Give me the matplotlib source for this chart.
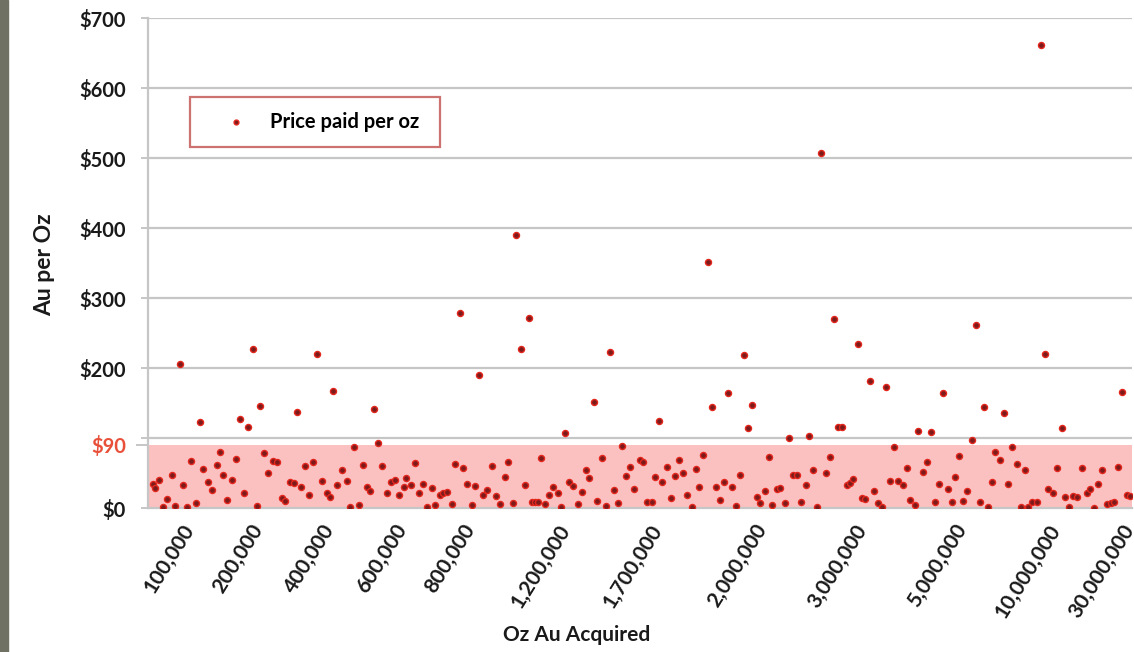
import matplotlib
matplotlib.use("Agg")
import matplotlib.pyplot as plt
from matplotlib.patches import Rectangle

plt.rcParams['font.family'] = ['Lato', 'DejaVu Sans']

# deal rank along the (ordered) acquisition-size axis
deal_rank = [
    0.75, 1.25, 2.25, 3.25, 4.25, 5.5, 6.25, 7.5, 8.25, 9.25,
    10.25, 11.5, 12.5, 13.25, 14.5, 15.5, 16.75, 17.5, 18.25, 19.25,
    20.5, 21.5, 22.5, 23.5, 24.5, 25.75, 26.75, 27.5, 28.5, 29.5,
    30.75, 31.75, 33, 33.75, 35, 36, 36.75, 37.75, 38.75, 39.75,
    40.75, 41.75, 43, 44.25, 45, 45.75, 46.75, 48, 49.25, 50,
    51, 52.25, 53.25, 54.25, 55, 56, 57, 58, 59.25, 60.25,
    61.25, 62.25, 63.5, 64, 65.25, 66.25, 67.25, 68.25, 69.25, 70.5,
    71.25, 72.5, 73.25, 74.25, 75.5, 76.25, 77.5, 78.25, 79.25, 80.5,
    81.25, 82.25, 83.25, 84.25, 85.5, 86.5, 87.5, 88.75, 89.5, 90.75,
    91.5, 92.75, 93.75, 94.75, 95.5, 96.25, 97, 97.75, 98.75, 99.75,
    100.75, 102, 102.75, 103.75, 104.75, 105.75, 107, 108, 109, 109.75,
    111, 111.75, 113, 114, 115, 116, 117, 118, 119, 120,
    121, 122.5, 123.25, 124.25, 125.5, 126.25, 127.25, 128, 129.25, 130.25,
    131.25, 132.25, 133.25, 134.25, 135.5, 136.5, 137.25, 138.25, 139.5, 140.5,
    141.5, 142.5, 143.5, 144.5, 145.5, 146.5, 147.5, 148.5, 149.5, 150.5,
    151.75, 152.5, 153.75, 154.75, 155.5, 156.75, 157.5, 158.75, 159.75, 160.75,
    161.75, 162.75, 164, 164.75, 165.75, 166.75, 167.75, 169, 170, 171,
    172, 173, 174.25, 175, 175.75, 177, 178, 178.75, 180, 181,
    182, 183, 184, 185, 186, 187, 188.25, 189.25, 190, 191.25,
    192, 193.25, 194.25, 195.25, 196.25, 197.25, 198.25, 199.5, 200.5, 201.25,
    202.25, 203.25, 204.25, 205.5, 206.5, 207.5, 208.5, 209.5, 210.5, 211.25,
    212.5, 213.5, 214.5, 215.5, 216.75, 217.75, 218.75, 219.5, 220.5, 221.75,
    222.75, 223.75, 224.5, 225.75, 226.75, 228, 228.75, 229.75, 230.75, 231.75,
    233, 234.25, 235, 236, 237, 238, 239.25, 240.25, 241, 242,
    243, 244.25, 245,
]

# price paid per oz (US$)
price_per_oz = [
    34, 29, 40, 1, 13, 47, 3, 206, 33, 1,
    67, 7, 123, 56, 37, 26, 61, 80, 47, 11,
    40, 70, 127, 21, 116, 227, 3, 146, 78, 50,
    67, 66, 14, 10, 37, 36, 137, 30, 60, 19,
    66, 220, 39, 21, 16, 167, 33, 54, 39, 1,
    87, 4, 61, 30, 24, 141, 93, 60, 21, 37,
    40, 19, 30, 43, 33, 64, 21, 34, 1, 29,
    4, 19, 21, 23, 6, 63, 278, 57, 34, 4,
    31, 190, 19, 26, 60, 17, 6, 44, 66, 7,
    390, 227, 33, 271, 9, 9, 9, 71, 6, 19,
    30, 21, 1, 107, 37, 31, 6, 23, 54, 43,
    151, 10, 71, 3, 223, 26, 7, 88, 46, 59,
    27, 69, 66, 9, 9, 44, 124, 37, 59, 14,
    46, 69, 50, 19, 1, 56, 30, 76, 351, 144,
    30, 11, 37, 164, 30, 3, 47, 218, 114, 147,
    16, 7, 24, 73, 4, 27, 29, 7, 100, 47,
    47, 9, 33, 103, 54, 1, 507, 50, 73, 270,
    116, 116, 33, 36, 41, 235, 14, 13, 181, 24,
    7, 1, 173, 39, 87, 39, 33, 57, 11, 4,
    110, 51, 66, 108, 9, 34, 164, 27, 9, 44,
    74, 10, 24, 97, 261, 9, 144, 1, 37, 80,
    69, 136, 34, 87, 63, 1, 54, 1, 9, 9,
    662, 220, 27, 21, 57, 114, 16, 1, 17, 16,
    57, 21, 27, 0, 34, 54, 6, 7, 9, 59,
    166, 19, 17,
]

xtick_ranks = [10, 27, 45, 63, 80, 104, 127, 153, 178, 203, 226.5, 245]
xtick_labels = ['100,000', '200,000', '400,000', '600,000', '800,000',
                '1,200,000', '1,700,000', '2,000,000', '3,000,000',
                '5,000,000', '10,000,000', '30,000,000']

ytick_values = [0, 90, 200, 300, 400, 500, 600, 700]
ytick_labels = ['$0', '$90', '$200', '$300', '$400', '$500', '$600', '$700']
grid_values = [100, 200, 300, 400, 500, 600, 700]
band_limit = 90

W, H = 1134, 652
fig = plt.figure(figsize=(W / 100, H / 100), dpi=100)
fig.patch.set_facecolor('white')
fig.patches.append(Rectangle((0, 0), 8 / W, 1, transform=fig.transFigure,
                             color='#6f7163', zorder=0))

ax = fig.add_axes([148 / W, 144 / H, (1132 - 148) / W, 490 / H])
ax.set_xlim(-0.5, 245.5)
ax.set_ylim(0, 700)

grid_col = '#c6c6c6'
ax.axhspan(0, band_limit, color='#fbc0c0', zorder=1, lw=0)
for g in grid_values:
    ax.axhline(g, color=grid_col, lw=1.6, zorder=2)

ax.scatter(deal_rank, price_per_oz, s=19, facecolor='#7d1b1b',
           edgecolor='#e5281e', linewidth=1.0, zorder=4,
           label='Price paid per oz')

for side in ['top', 'right']:
    ax.spines[side].set_visible(False)
for side in ['left', 'bottom']:
    ax.spines[side].set_color(grid_col)
    ax.spines[side].set_linewidth(1.6)

ax.set_yticks(ytick_values)
ax.set_yticklabels(ytick_labels, fontsize=14.5, fontweight='bold', color='#1a1a1a')
ax.set_yticks([100], minor=True)
ax.tick_params(axis='y', which='both', length=5, width=1.4, color=grid_col, pad=11)
for t, lab in zip(ax.yaxis.get_major_ticks(), ytick_labels):
    if lab == '$90':
        t.label1.set_color('#e8503a')
        t.tick1line.set_color('#b03a2a')
        t.tick1line.set_markersize(9)

ax.set_xticks(xtick_ranks)
ax.set_xticklabels(xtick_labels, rotation=58, ha='right', rotation_mode='anchor',
                   va='center', fontsize=15, fontweight='bold', color='#1a1a1a')
ax.tick_params(axis='x', length=0, pad=13)

leg = ax.legend(loc='upper left', bbox_to_anchor=(42 / 984, 411 / 490, 250 / 984, 0.001),
                mode='expand', borderaxespad=0, frameon=True, fancybox=False,
                prop={'weight': 'bold', 'size': 14.5}, handlelength=3.1,
                handletextpad=0.1, borderpad=0.75, scatterpoints=1, markerscale=0.8)
leg.get_frame().set_edgecolor('#c0504d')
leg.get_frame().set_linewidth(1.6)

fig.text(45 / W, 1 - 265 / H, 'Au per Oz', rotation=90, ha='center', va='center',
         fontsize=16.5, fontweight='bold', color='#1a1a1a')
fig.text(577 / W, 1 - 635 / H, 'Oz Au Acquired', ha='center', va='center',
         fontsize=15, fontweight='bold', color='#1a1a1a')

fig.savefig('out.png', dpi=100)
